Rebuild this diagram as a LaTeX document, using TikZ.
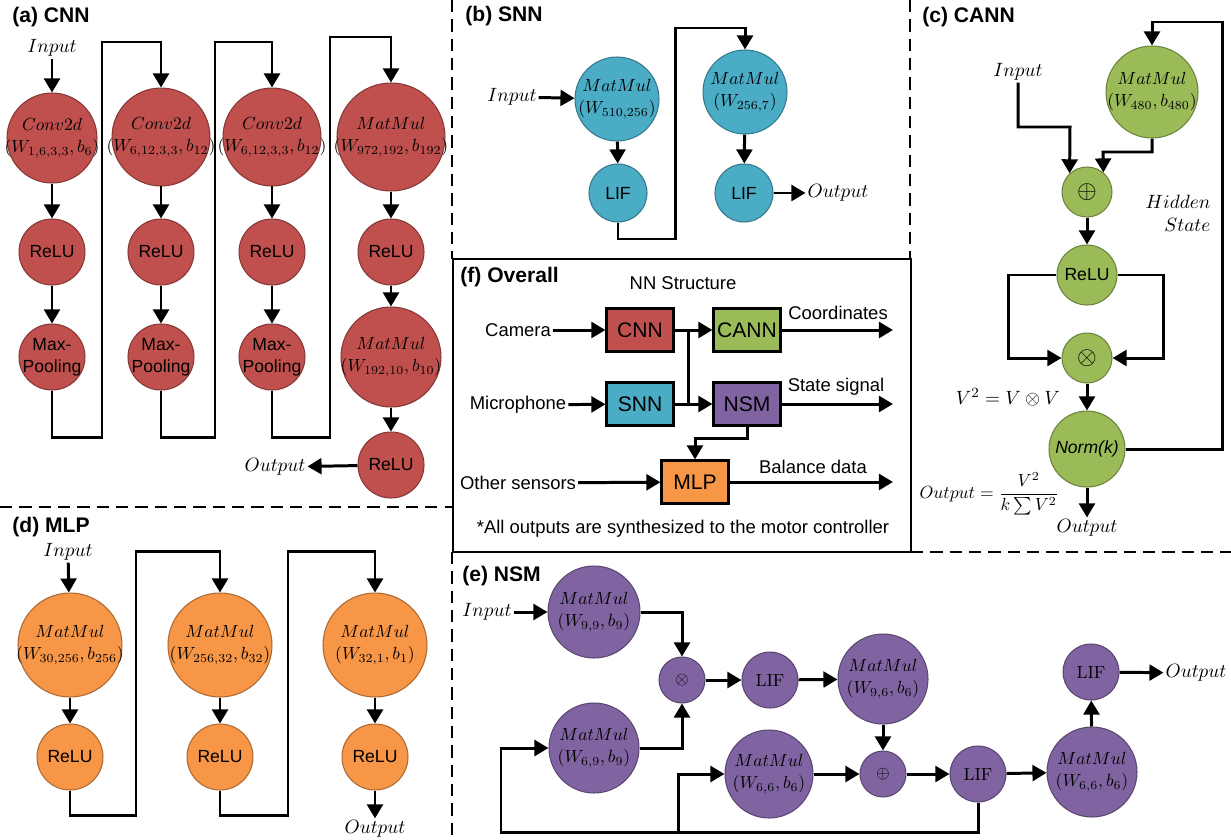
\documentclass[tikz,border=0pt]{standalone}
\usepackage[no-math]{fontspec}
\setmainfont{Liberation Sans}
\usetikzlibrary{arrows.meta}

\definecolor{cnnred}{RGB}{192,80,77}
\definecolor{snnblue}{RGB}{75,172,198}
\definecolor{canngreen}{RGB}{155,187,89}
\definecolor{nsmpurple}{RGB}{128,100,162}
\definecolor{mlporange}{RGB}{247,150,70}

\tikzset{
  arr/.style={line width=1.7pt,-{Triangle[length=8pt,width=9pt]}},
  wire/.style={line width=1.7pt},
  sep/.style={line width=1.1pt,dash pattern=on 7pt off 4pt},
  frame/.style={line width=1.2pt},
  unit/.style={circle,inner sep=-4pt,align=center,line width=0.6pt,font=\fontsize{10}{12.5}\selectfont},
  cnnunit/.style={unit,fill=cnnred,draw=cnnred!70!black},
  snnunit/.style={unit,fill=snnblue,draw=snnblue!70!black},
  cannunit/.style={unit,fill=canngreen,draw=canngreen!70!black},
  nsmunit/.style={unit,fill=nsmpurple,draw=nsmpurple!70!black},
  mlpunit/.style={unit,fill=mlporange,draw=mlporange!70!black},
  lbl/.style={inner sep=1pt,align=center,font=\fontsize{11}{13}\selectfont},
  flbl/.style={inner sep=1pt,font=\fontsize{10.5}{12.5}\selectfont},
  ttl/.style={anchor=west,inner sep=0pt,font=\fontsize{12}{14}\selectfont\bfseries},
  blk/.style={draw,line width=1.2pt,minimum width=1.34cm,minimum height=0.86cm,inner sep=0pt,font=\fontsize{12}{14}\selectfont},
}

\begin{document}
\begin{tikzpicture}[x=0.02cm,y=-0.02cm]
\useasboundingbox (0,0) rectangle (1231,839);

% panel borders
\draw[sep] (452,0) -- (452,259);
\draw[sep] (452,552) -- (452,839);
\draw[sep] (0,507) -- (452,507);
\draw[sep] (910,0) -- (910,259);
\draw[sep] (911,552) -- (1231,552);
\draw[frame] (453,259) rectangle (911,552);

% (a) CNN
\node[ttl] (ta) at (12,17) {(a) CNN};
\node[lbl] (ina) at (52,48) {$Input$};
\node[cnnunit,minimum size=1.8cm] (cv1) at (52,138) {$Conv2d$\\$(W_{1,6,3,3},b_6)$};
\node[cnnunit,minimum size=1.92cm] (cv2) at (161,137) {$Conv2d$\\$(W_{6,12,3,3},b_{12})$};
\node[cnnunit,minimum size=1.92cm] (cv3) at (272,137) {$Conv2d$\\$(W_{6,12,3,3},b_{12})$};
\node[cnnunit,minimum size=2.16cm] (ma1) at (391,137) {$MatMul$\\$(W_{972,192},b_{192})$};
\foreach \i/\x in {1/52,2/161,3/272,4/391}
  \node[cnnunit,minimum size=1.32cm] (ra\i) at (\x,252) {ReLU};
\foreach \i/\x in {1/52,2/161,3/272}
  \node[cnnunit,minimum size=1.32cm] (mp\i) at (\x,357) {Max-\\Pooling};
\node[cnnunit,minimum size=2cm] (ma2) at (391,357) {$MatMul$\\$(W_{192,10},b_{10})$};
\node[cnnunit,minimum size=1.32cm] (ra5) at (391,465) {ReLU};
\node[lbl] (outa) at (275,467) {$Output$};

\draw[arr] (ina) -- (cv1);
\draw[arr] (cv1) -- (ra1);
\draw[arr] (cv2) -- (ra2);
\draw[arr] (cv3) -- (ra3);
\draw[arr] (ma1) -- (ra4);
\foreach \i in {1,2,3}
  \draw[arr] (ra\i) -- (mp\i);
\draw[arr] (ra4) -- (ma2);
\draw[arr] (ma2) -- (ra5);
\draw[arr] (ra5) -- (outa);
\draw[arr] (mp1.south) |- (102,437) |- (161,42) -- (cv2.north);
\draw[arr] (mp2.south) |- (215,437) |- (272,42) -- (cv3.north);
\draw[arr] (mp3.south) |- (330,437) |- (391,37) -- (ma1.north);

% (b) SNN
\node[ttl] (tb) at (465,16) {(b) SNN};
\node[snnunit,minimum size=1.68cm] (sm1) at (617,99) {$MatMul$\\$(W_{510,256})$};
\node[snnunit,minimum size=1.16cm] (sl1) at (618,193) {LIF};
\node[snnunit,minimum size=1.68cm] (sm2) at (745,92) {$MatMul$\\$(W_{256,7})$};
\node[snnunit,minimum size=1.16cm] (sl2) at (744,193) {LIF};
\node[lbl] (inb) at (512,97) {$Input$};
\node[lbl] (outb) at (838,193) {$Output$};

\draw[arr] (inb) -- (sm1);
\draw[arr] (sm1) -- (sl1);
\draw[arr] (sm2) -- (sl2);
\draw[arr] (sl2) -- (outb);
\draw[arr] (sl1.south) |- (675,239) |- (745,28) -- (sm2.north);

% (c) CANN
\node[ttl] (tc) at (922,17) {(c) CANN};
\node[lbl] (inc) at (1018,72) {$Input$};
\node[cannunit,minimum size=1.84cm] (cm) at (1152,92) {$MatMul$\\$(W_{480},b_{480})$};
\node[cannunit,minimum size=1cm,font=\Large] (cadd) at (1087,192) {$\oplus$};
\node[cannunit,minimum size=1.2cm] (crelu) at (1087,275) {ReLU};
\node[cannunit,minimum size=1cm,font=\Large] (cmul) at (1087,358) {$\otimes$};
\node[cannunit,minimum size=1.52cm] (cnorm) at (1087,449) {\textit{Norm(k)}};
\node[lbl] (outc) at (1087,528) {$Output$};
\node[lbl,align=right] (hid) at (1178,213) {$Hidden$\\$State$};
\node[lbl,anchor=east] (sq) at (1062,397) {$V^2=V\otimes V$};
\node[lbl,anchor=east,font=\fontsize{10}{12}\selectfont] (eq) at (1061,494) {$\displaystyle Output=\frac{V^2}{k\sum V^2}$};

\draw[arr] (inc.south) |- (1070,127) -- (cadd.133);
\draw[arr] (cm.south) |- (1103,152) -- (cadd.50);
\draw[arr] (cadd) -- (crelu);
\draw[arr] (crelu.west) -| (1008,358) -- (cmul.west);
\draw[arr] (crelu.east) -| (1163,358) -- (cmul.east);
\draw[arr] (cmul) -- (cnorm);
\draw[arr] (cnorm) -- (outc);
\draw[arr] (cnorm.east) -| (1222,22) -| (cm.north);

% (d) MLP
\node[ttl] (td) at (12,527) {(d) MLP};
\node[lbl] (ind) at (68,552) {$Input$};
\node[mlpunit,minimum size=2.08cm] (dm1) at (70,645) {$MatMul$\\$(W_{30,256},b_{256})$};
\node[mlpunit,minimum size=2.08cm] (dm2) at (220,645) {$MatMul$\\$(W_{256,32},b_{32})$};
\node[mlpunit,minimum size=2.08cm] (dm3) at (375,645) {$MatMul$\\$(W_{32,1},b_1)$};
\foreach \i/\x in {1/70,2/220,3/375}
  \node[mlpunit,minimum size=1.32cm] (dr\i) at (\x,757) {ReLU};
\node[lbl] (outd) at (375,829) {$Output$};

\draw[arr] (ind) -- (dm1);
\foreach \i in {1,2,3}
  \draw[arr] (dm\i) -- (dr\i);
\draw[arr] (dr3) -- (outd);
\draw[arr] (dr1.south) |- (136,815) |- (220,551) -- (dm2.north);
\draw[arr] (dr2.south) |- (288,815) |- (375,551) -- (dm3.north);

% (e) NSM
\node[ttl] (te) at (462,576) {(e) NSM};
\node[lbl] (ine) at (487,612) {$Input$};
\node[nsmunit,minimum size=1.84cm] (em1) at (594,612) {$MatMul$\\$(W_{9,9},b_9)$};
\node[nsmunit,minimum size=1.8cm] (em2) at (594,748) {$MatMul$\\$(W_{6,9},b_9)$};
\node[nsmunit,minimum size=0.92cm] (emul) at (682,680) {$\otimes$};
\node[nsmunit,minimum size=1.12cm] (el1) at (770,680) {$\mathrm{LIF}$};
\node[nsmunit,minimum size=1.8cm] (em3) at (883,679) {$MatMul$\\$(W_{9,6},b_6)$};
\node[nsmunit,minimum size=1.76cm] (em4) at (769,774) {$MatMul$\\$(W_{6,6},b_6)$};
\node[nsmunit,minimum size=0.92cm] (eadd) at (883,774) {$\oplus$};
\node[nsmunit,minimum size=1.12cm] (el2) at (978,774) {$\mathrm{LIF}$};
\node[nsmunit,minimum size=1.8cm] (em5) at (1092,772) {$MatMul$\\$(W_{6,6},b_6)$};
\node[nsmunit,minimum size=1.12cm] (el3) at (1091,672) {$\mathrm{LIF}$};
\node[lbl] (oute) at (1196,673) {$Output$};

\draw[arr] (ine) -- (em1);
\draw[arr] (em1.east) -| (emul.north);
\draw[arr] (em2.east) -| (emul.south);
\draw[arr] (emul) -- (el1);
\draw[arr] (el1) -- (em3);
\draw[arr] (em3) -- (eadd);
\draw[arr] (em4) -- (eadd);
\draw[arr] (eadd) -- (el2);
\draw[arr] (el2) -- (em5);
\draw[arr] (em5) -- (el3);
\draw[arr] (el3) -- (oute);
\draw[arr] (el2.south) |- (501,832) |- (em2.west);
\coordinate (tap) at (678,832);
\draw[arr] (tap) |- (em4.west);

% (f) Overall
\node[ttl] (tf) at (460,277) {(f) Overall};
\node[flbl] (nns) at (683,283) {NN Structure};
\node[blk,fill=cnnred] (fcnn) at (640,330) {CNN};
\node[blk,fill=canngreen] (fcann) at (747,330) {CANN};
\node[blk,fill=snnblue] (fsnn) at (640,404) {SNN};
\node[blk,fill=nsmpurple] (fnsm) at (747,404) {NSM};
\node[blk,fill=mlporange] (fmlp) at (695,482) {MLP};
\node[flbl] (cam) at (518,330) {Camera};
\node[flbl] (mic) at (518,405) {Microphone};
\node[flbl] (oth) at (518,483) {Other sensors};
\coordinate (oc) at (893,330);
\coordinate (os) at (893,404);
\coordinate (ob) at (893,482);
\coordinate (br) at (688,330);
\node[flbl] (lc) at (838,313) {Coordinates};
\node[flbl] (ls) at (836,387) {State signal};
\node[flbl] (lb) at (813,467) {Balance data};
\node[flbl] (note) at (683,529) {*All outputs are synthesized to the motor controller};

\draw[arr] (cam) -- (fcnn);
\draw[arr] (mic) -- (fsnn);
\draw[arr] (oth) -- (fmlp);
\draw[arr] (fcnn) -- (fcann);
\draw[arr] (fsnn) -- (fnsm);
\draw[wire] (br) -- (br |- fsnn.east);
\draw[arr] (fnsm.south) |- (695,438) -- (fmlp.north);
\draw[arr] (fcann) -- (oc);
\draw[arr] (fnsm) -- (os);
\draw[arr] (fmlp) -- (ob);
\end{tikzpicture}
\end{document}
